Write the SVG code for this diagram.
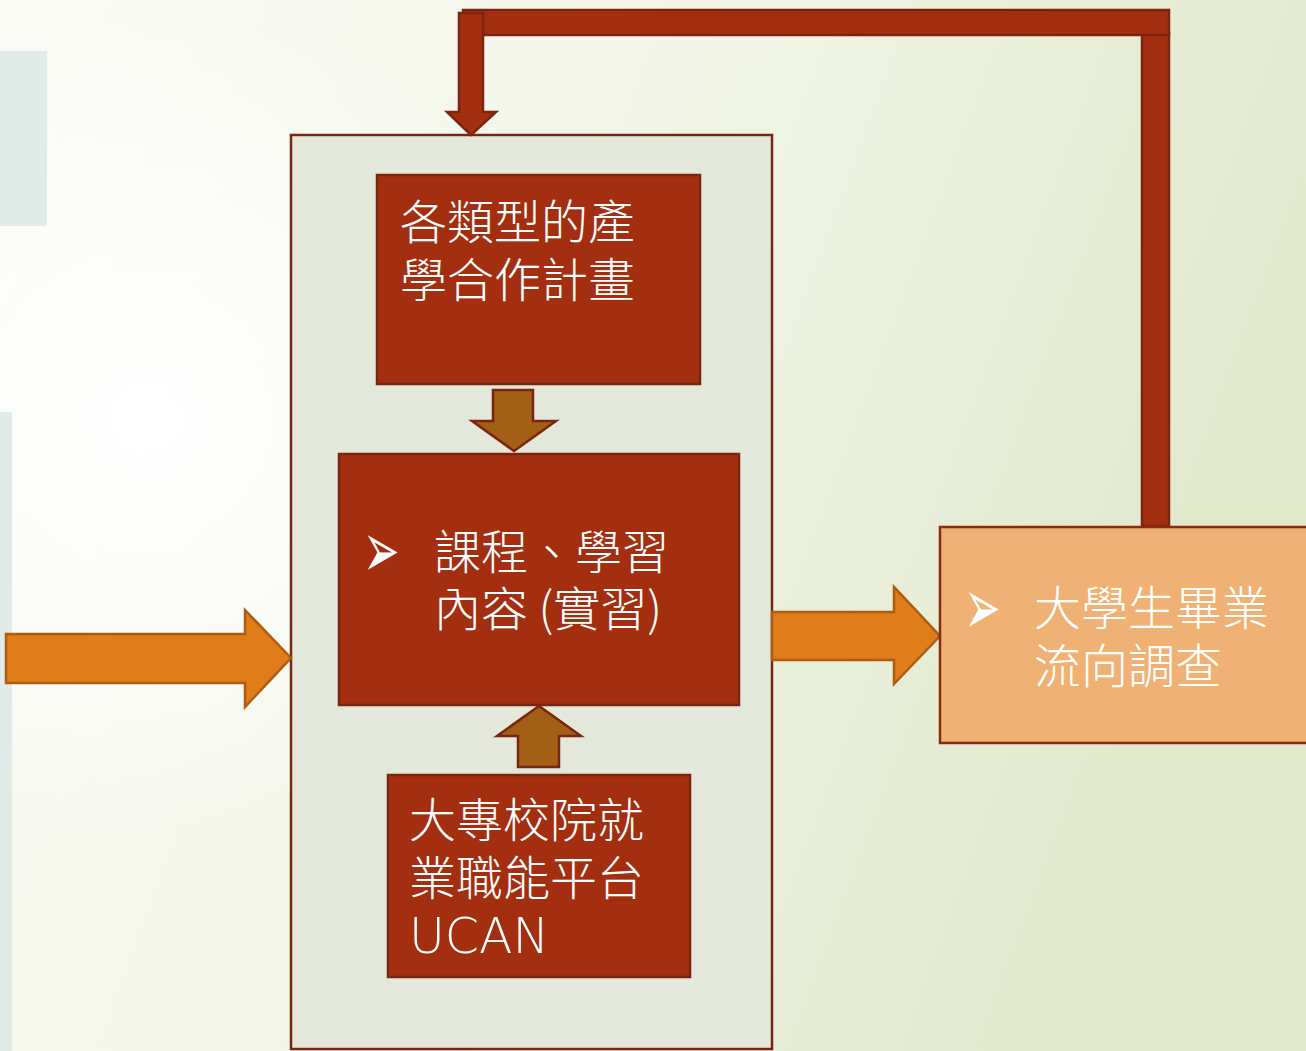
<svg xmlns="http://www.w3.org/2000/svg" width="1306" height="1051" viewBox="0 0 1306 1051">
<defs>
<linearGradient id="bg" x1="0" y1="0" x2="1" y2="0.3">
<stop offset="0" stop-color="#fafbf5"/>
<stop offset="0.45" stop-color="#f3f6e9"/>
<stop offset="1" stop-color="#e1e9cc"/>
</linearGradient>
<radialGradient id="glow" cx="150" cy="420" r="420" gradientUnits="userSpaceOnUse">
<stop offset="0" stop-color="#ffffff" stop-opacity="1"/>
<stop offset="0.5" stop-color="#ffffff" stop-opacity="0.6"/>
<stop offset="1" stop-color="#ffffff" stop-opacity="0"/>
</radialGradient>
<style>
.box{fill:#a42e10;stroke:#7b2410;stroke-width:2.5}
.small{fill:#a35f15;stroke:#7b2410;stroke-width:2.5}
.big{fill:#de7d19;stroke:#b05c10;stroke-width:2.5}
.loop{fill:#a42e10;stroke:#7b2410;stroke-width:2.5}
.t{font-family:"Noto Sans CJK TC","Noto Sans CJK SC",sans-serif;font-size:47px;font-weight:300;fill:#ffffff}
.lat{font-family:"DejaVu Sans","Noto Sans CJK TC",sans-serif;font-weight:200;font-size:49px}
.bul{font-family:"DejaVu Sans",sans-serif;font-size:46px;fill:#ffffff}
</style>
</defs>
<rect x="0" y="0" width="1306" height="1051" fill="url(#bg)"/>
<rect x="0" y="0" width="1306" height="1051" fill="url(#glow)"/>
<rect x="0" y="51" width="47" height="175" fill="#e0ece7"/>
<rect x="0" y="412" width="12" height="639" fill="#e0ece7"/>

<g id="container">
<rect x="291" y="135" width="481" height="914" fill="#e3e8da" stroke="#7b2410" stroke-width="2.5"/>
</g>

<g id="connectors">
<rect class="loop" x="1142" y="33" width="27" height="493"/>
<rect class="loop" x="463" y="10" width="706" height="25"/>
<polygon class="loop" points="459,13 483,13 483,112 496,112 471,135 447,112 459,112"/>
<polygon class="small" points="493,390 533,390 533,421 556,421 514,451 472,421 493,421"/>
<polygon class="small" points="539,706 581,736 559,736 559,767 518,767 518,736 497,736"/>
<polygon class="big" points="6,634 245,634 245,610 291,658 245,707 245,683 6,683"/>
<polygon class="big" points="772,612 894,612 894,587 940,636 894,684 894,660 772,660"/>
</g>

<g id="node-top">
<rect class="box" x="377" y="175" width="323" height="209"/>
<text class="t" x="400" y="239">各類型的產<tspan x="400" y="297">學合作計畫</tspan></text>
</g>

<g id="node-middle">
<rect class="box" x="339" y="454" width="400" height="251"/>
<text class="bul" transform="translate(363,577) scale(0.95,1.7)">➢</text>
<text class="t" x="434" y="569">課程、學習<tspan x="434" y="626">內容 (實習)</tspan></text>
</g>

<g id="node-bottom">
<rect class="box" x="388" y="775" width="302" height="202"/>
<text class="t" x="409" y="837">大專校院就<tspan x="409" y="895">業職能平台</tspan><tspan class="lat" x="409" y="953">UCAN</tspan></text>
</g>

<g id="node-right">
<rect x="940" y="527" width="380" height="216" fill="#efb274" stroke="#8b2a10" stroke-width="2.5"/>
<text class="bul" transform="translate(964,634) scale(0.95,1.7)">➢</text>
<text class="t" x="1034" y="625">大學生畢業<tspan x="1034" y="683">流向調查</tspan></text>
</g>
</svg>
